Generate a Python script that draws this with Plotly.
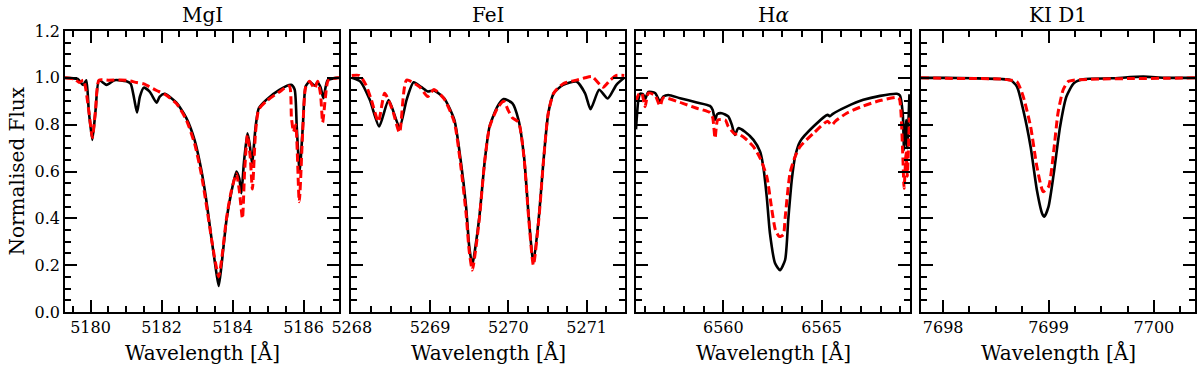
import plotly.graph_objects as go

# ---- data (wavelength in Angstrom, normalised flux) ----
mg_wl_obs = [5179.28, 5179.64, 5179.79, 5179.88, 5179.95, 5180.05, 5180.14, 5180.24, 5180.45,
             5180.68, 5181.01, 5181.13, 5181.23, 5181.31, 5181.39, 5181.50, 5181.67, 5181.86,
             5181.95, 5182.09, 5182.42, 5182.70, 5182.93, 5183.12, 5183.26, 5183.40, 5183.52,
             5183.61, 5183.69, 5183.83, 5183.97, 5184.11, 5184.19, 5184.25, 5184.32, 5184.42,
             5184.48, 5184.55, 5184.65, 5184.74, 5184.95, 5185.32, 5185.65, 5185.75, 5185.81,
             5185.89, 5185.98, 5186.06, 5186.17, 5186.31, 5186.40, 5186.48, 5186.56, 5186.68,
             5186.96, 5187.0]
mg_fl_obs = [1.0, 0.995, 0.97, 0.99, 0.86, 0.735, 0.86, 0.99, 0.97,
             0.99, 0.985, 0.975, 0.91, 0.852, 0.92, 0.958, 0.94, 0.894,
             0.92, 0.932, 0.894, 0.828, 0.735, 0.607, 0.479, 0.322, 0.194,
             0.111, 0.2, 0.393, 0.514, 0.60, 0.57, 0.507, 0.636, 0.763,
             0.72, 0.635, 0.79, 0.87, 0.906, 0.949, 0.97, 0.95, 0.79,
             0.6, 0.79, 0.963, 0.984, 0.966, 0.98, 0.96, 0.913, 0.99,
             1.0, 1.0]
mg_wl_mod = [5179.28, 5179.55, 5179.68, 5179.80, 5179.95, 5180.05, 5180.14, 5180.24, 5180.5,
             5181.0, 5181.3, 5181.5, 5181.86, 5182.09, 5182.42, 5182.70, 5182.93, 5183.12,
             5183.26, 5183.40, 5183.52, 5183.61, 5183.69, 5183.83, 5183.97, 5184.11, 5184.19,
             5184.28, 5184.34, 5184.42, 5184.50, 5184.56, 5184.65, 5184.74, 5184.95, 5185.32,
             5185.60, 5185.66, 5185.72, 5185.78, 5185.88, 5185.98, 5186.06, 5186.17, 5186.31,
             5186.40, 5186.48, 5186.54, 5186.62, 5186.70, 5187.0]
mg_fl_mod = [1.0, 0.995, 0.98, 0.99, 0.86, 0.745, 0.86, 0.99, 0.99,
             0.99, 0.98, 0.974, 0.946, 0.93, 0.89, 0.82, 0.72, 0.59,
             0.46, 0.32, 0.21, 0.151, 0.22, 0.40, 0.52, 0.59, 0.52,
             0.40, 0.60, 0.755, 0.66, 0.525, 0.77, 0.865, 0.90, 0.94,
             0.965, 0.83, 0.77, 0.80, 0.471, 0.78, 0.96, 0.985, 0.955,
             0.985, 0.93, 0.81, 0.92, 0.99, 1.0]

fe_wl_obs = [5268.0, 5268.11, 5268.23, 5268.35, 5268.47, 5268.61, 5268.70, 5268.79, 5268.89,
             5268.97, 5269.05, 5269.18, 5269.31, 5269.39, 5269.46, 5269.50, 5269.54, 5269.58,
             5269.63, 5269.70, 5269.76, 5269.86, 5269.94, 5270.05, 5270.13, 5270.20, 5270.26,
             5270.32, 5270.39, 5270.45, 5270.51, 5270.58, 5270.70, 5270.87, 5270.98, 5271.05,
             5271.16, 5271.27, 5271.38, 5271.48]
fe_fl_obs = [1.0, 0.984, 0.906, 0.792, 0.905, 0.788, 0.906, 0.981, 0.96,
             0.942, 0.946, 0.913, 0.82, 0.65, 0.45, 0.28, 0.2, 0.28,
             0.407, 0.65, 0.792, 0.877, 0.909, 0.892, 0.82, 0.664, 0.407,
             0.21, 0.407, 0.65, 0.849, 0.934, 0.97, 0.984, 0.934, 0.866,
             0.949, 0.912, 0.97, 1.0]
fe_wl_mod = [5268.0, 5268.10, 5268.18, 5268.25, 5268.34, 5268.42, 5268.52, 5268.61, 5268.70,
             5268.87, 5268.97, 5269.05, 5269.18, 5269.31, 5269.39, 5269.46, 5269.50, 5269.54,
             5269.58, 5269.63, 5269.70, 5269.76, 5269.86, 5269.94, 5270.00, 5270.05, 5270.13,
             5270.20, 5270.26, 5270.32, 5270.39, 5270.45, 5270.51, 5270.58, 5270.70, 5270.87,
             5270.98, 5271.07, 5271.21, 5271.30, 5271.38, 5271.48]
fe_fl_mod = [1.01, 1.01, 0.97, 0.906, 0.813, 0.934, 0.863, 0.766, 0.99,
             0.96, 0.92, 0.95, 0.91, 0.81, 0.63, 0.42, 0.26, 0.179,
             0.26, 0.40, 0.65, 0.79, 0.87, 0.90, 0.86, 0.83, 0.81,
             0.66, 0.40, 0.20, 0.40, 0.65, 0.85, 0.935, 0.975, 0.99,
             1.0, 1.005, 0.96, 0.99, 1.01, 1.01]

ha_wl_obs = [6555.56, 6555.68, 6555.77, 6555.92, 6556.02, 6556.19, 6556.53, 6556.78, 6556.95,
             6557.20, 6557.80, 6558.65, 6559.32, 6559.46, 6559.58, 6559.69, 6559.92, 6560.25,
             6560.43, 6560.59, 6560.76, 6561.10, 6561.53, 6561.87, 6562.03, 6562.21, 6562.37,
             6562.63, 6562.88, 6563.14, 6563.30, 6563.48, 6563.65, 6563.90, 6564.58, 6565.30,
             6565.42, 6565.55, 6566.27, 6567.12, 6567.97, 6568.82, 6568.98, 6569.12, 6569.19,
             6569.29, 6569.35, 6569.46]
ha_fl_obs = [0.78, 0.906, 0.932, 0.93, 0.909, 0.94, 0.935, 0.899, 0.92,
             0.927, 0.913, 0.895, 0.88, 0.863, 0.82, 0.845, 0.849, 0.835,
             0.80, 0.756, 0.785, 0.77, 0.735, 0.685, 0.621, 0.49, 0.336,
             0.208, 0.179, 0.222, 0.393, 0.564, 0.664, 0.728, 0.792, 0.842,
             0.836, 0.845, 0.877, 0.906, 0.923, 0.932, 0.925, 0.849, 0.692,
             0.82, 0.70, 0.93]
ha_wl_mod = [6555.56, 6555.70, 6555.85, 6556.02, 6556.19, 6556.53, 6556.78, 6556.95, 6557.80,
             6558.65, 6559.32, 6559.46, 6559.58, 6559.72, 6560.10, 6560.25, 6560.59, 6560.76,
             6561.10, 6561.53, 6561.87, 6562.21, 6562.46, 6562.65, 6562.85, 6563.05, 6563.14,
             6563.39, 6563.65, 6563.90, 6564.58, 6565.30, 6565.50, 6565.70, 6566.27, 6567.12,
             6567.97, 6568.82, 6568.95, 6569.12, 6569.19, 6569.29, 6569.35, 6569.46]
ha_fl_mod = [0.90, 0.93, 0.935, 0.877, 0.935, 0.925, 0.88, 0.915, 0.895,
             0.87, 0.852, 0.83, 0.742, 0.82, 0.82, 0.792, 0.76, 0.76,
             0.742, 0.706, 0.657, 0.578, 0.44, 0.35, 0.322, 0.33, 0.40,
             0.593, 0.664, 0.706, 0.763, 0.815, 0.798, 0.815, 0.849, 0.88,
             0.903, 0.917, 0.91, 0.678, 0.528, 0.68, 0.58, 0.83]

k_wl_obs = [7697.79, 7698.0, 7698.3, 7698.55, 7698.64, 7698.70, 7698.76, 7698.83, 7698.89,
            7698.94, 7698.96, 7699.0, 7699.05, 7699.11, 7699.17, 7699.24, 7699.33, 7699.6,
            7699.9, 7700.1, 7700.39]
k_fl_obs = [1.0, 1.0, 0.998, 0.995, 0.99, 0.963, 0.863, 0.706, 0.52,
            0.42, 0.407, 0.45, 0.592, 0.792, 0.92, 0.977, 0.994, 0.998,
            1.005, 1.0, 1.0]
k_wl_mod = [7697.79, 7698.0, 7698.3, 7698.55, 7698.64, 7698.70, 7698.76, 7698.83, 7698.89,
            7698.95, 7699.0, 7699.05, 7699.09, 7699.14, 7699.19, 7699.24, 7699.5, 7699.8,
            7700.1, 7700.39]
k_fl_mod = [1.0, 0.998, 0.997, 0.995, 0.99, 0.984, 0.92, 0.792, 0.62,
            0.514, 0.535, 0.69, 0.85, 0.95, 0.985, 0.99, 0.995, 0.997,
            0.998, 1.0]

titles = ["MgI", "FeI", "H<i>α</i>", "KI D1"]
panels = [
    (mg_wl_obs, mg_fl_obs, mg_wl_mod, mg_fl_mod),
    (fe_wl_obs, fe_fl_obs, fe_wl_mod, fe_fl_mod),
    (ha_wl_obs, ha_fl_obs, ha_wl_mod, ha_fl_mod),
    (k_wl_obs, k_fl_obs, k_wl_mod, k_fl_mod),
]
x_ranges = [[5179.28, 5187.0], [5267.99, 5271.49], [6555.56, 6569.49], [7697.79, 7700.39]]
x_dtick = [2, 1, 5, 1]
x_minor = [0.5, 0.25, 1, 0.25]

W, H = 1200, 370
left_px = [65, 351, 636, 921]
width_px = 274
top_px, bot_px = 31, 312
font = "DejaVu Serif"


def fx(px):
    return px / W


def fy(py):
    return (H - py) / H


fig = go.Figure()
layout = dict(
    width=W, height=H, margin=dict(l=0, r=0, t=0, b=0, autoexpand=False),
    paper_bgcolor="white", plot_bgcolor="white", showlegend=False,
    font=dict(family=font, size=16, color="black"),
)
annotations = []
for i, (wo, fo, wm, fm) in enumerate(panels):
    n = "" if i == 0 else str(i + 1)
    fig.add_trace(go.Scatter(x=wo, y=fo, mode="lines", xaxis="x" + n, yaxis="y" + n,
                             line=dict(color="black", width=2.6, shape="spline", smoothing=0.6)))
    fig.add_trace(go.Scatter(x=wm, y=fm, mode="lines", xaxis="x" + n, yaxis="y" + n,
                             line=dict(color="#ff0000", width=3, dash="8px,4px",
                                       shape="spline", smoothing=0.6)))
    layout["xaxis" + n] = dict(
        domain=[fx(left_px[i]), fx(left_px[i] + width_px)], anchor="y" + n,
        range=x_ranges[i], dtick=x_dtick[i], automargin=False,
        showline=True, linecolor="black", linewidth=1.5, mirror="allticks",
        ticks="inside", ticklen=12, tickwidth=1.5, tickcolor="black",
        showgrid=False, zeroline=False, tickfont=dict(size=16),
        minor=dict(dtick=x_minor[i], ticks="inside", ticklen=6, tickwidth=1.5,
                   tickcolor="black", showgrid=False),
    )
    layout["yaxis" + n] = dict(
        domain=[fy(bot_px), fy(top_px)], anchor="x" + n, range=[0, 1.2],
        dtick=0.2, tickformat=".1f", showticklabels=(i == 0), automargin=False,
        showline=True, linecolor="black", linewidth=1.5, mirror="allticks",
        ticks="inside", ticklen=12, tickwidth=1.5, tickcolor="black",
        showgrid=False, zeroline=False, tickfont=dict(size=16),
        minor=dict(dtick=0.05, ticks="inside", ticklen=6, tickwidth=1.5,
                   tickcolor="black", showgrid=False),
    )
    cx = fx(left_px[i] + width_px / 2)
    annotations.append(dict(text=titles[i], x=cx, y=fy(15), xref="paper", yref="paper",
                            showarrow=False, xanchor="center", yanchor="middle",
                            font=dict(family=font, size=20)))
    annotations.append(dict(text="Wavelength [Å]", x=cx, y=fy(352), xref="paper",
                            yref="paper", showarrow=False, xanchor="center", yanchor="middle",
                            font=dict(family=font, size=20)))

annotations.append(dict(text="Normalised Flux", x=fx(16), y=fy(171.5), xref="paper",
                        yref="paper", showarrow=False, textangle=-90, xanchor="center",
                        yanchor="middle", font=dict(family=font, size=20)))
layout["annotations"] = annotations
fig.update_layout(**layout)

# drop the default page margin so the figure sits at the window's top-left corner
fig.write_html("out.html", config={"displayModeBar": False},
               post_script="document.body.style.margin = '0';")
